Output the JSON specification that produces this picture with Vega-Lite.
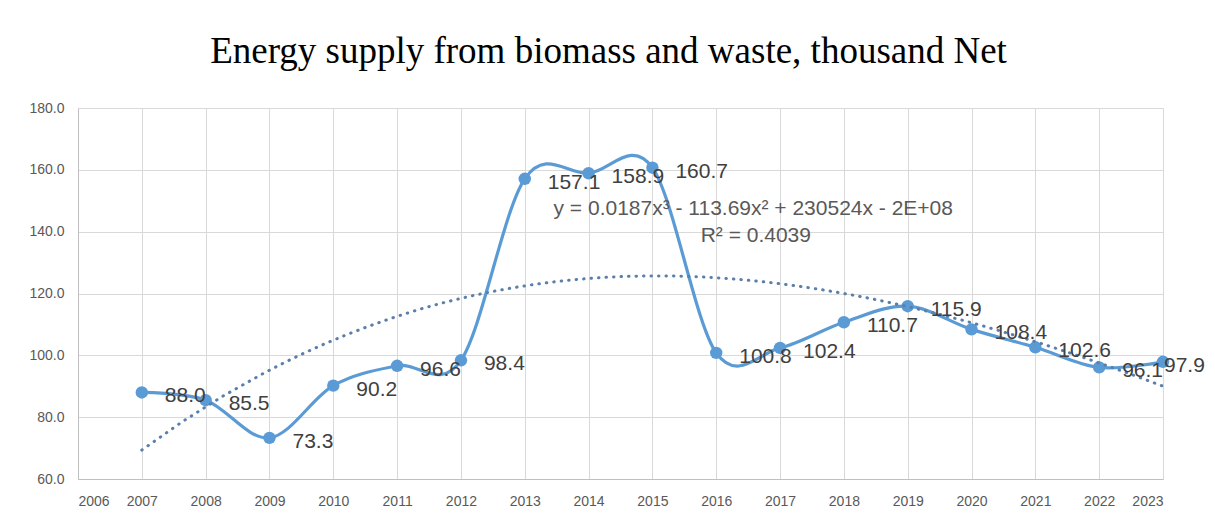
{
  "$schema": "https://vega.github.io/schema/vega-lite/v6.json",
  "autosize": "none",
  "width": 1085,
  "height": 371,
  "padding": {"left": 78, "top": 108, "right": 52, "bottom": 38},
  "background": "white",
  "title": {
    "text": "Energy supply from biomass and waste, thousand Net",
    "font": "Liberation Serif",
    "fontSize": 37,
    "fontWeight": "normal",
    "color": "#000000",
    "anchor": "middle",
    "frame": "group",
    "offset": 30,
    "dx": -12
  },
  "config": {
    "view": {"stroke": null},
    "axis": {
      "labelFont": "Liberation Sans",
      "labelFontSize": 14,
      "labelColor": "#595959",
      "gridColor": "#d9d9d9",
      "gridWidth": 1,
      "domainColor": "#bfbfbf",
      "ticks": false,
      "title": null
    }
  },
  "datasets": {
    "series": [
      {"year": 2007, "v": 88.0},
      {"year": 2008, "v": 85.5},
      {"year": 2009, "v": 73.3},
      {"year": 2010, "v": 90.2},
      {"year": 2011, "v": 96.6},
      {"year": 2012, "v": 98.4},
      {"year": 2013, "v": 157.1},
      {"year": 2014, "v": 158.9},
      {"year": 2015, "v": 160.7},
      {"year": 2016, "v": 100.8},
      {"year": 2017, "v": 102.4},
      {"year": 2018, "v": 110.7},
      {"year": 2019, "v": 115.9},
      {"year": 2020, "v": 108.4},
      {"year": 2021, "v": 102.6},
      {"year": 2022, "v": 96.1},
      {"year": 2023, "v": 97.9}
    ],
    "notes": [
      {"year": 2016.58, "v": 147.3, "label": "y = 0.0187x³ - 113.69x² + 230524x - 2E+08"},
      {"year": 2016.62, "v": 138.6, "label": "R² = 0.4039"}
    ]
  },
  "encoding": {
    "x": {
      "field": "year",
      "type": "quantitative",
      "scale": {"domain": [2006, 2023], "nice": false, "zero": false},
      "axis": {"values": [2006,2007,2008,2009,2010,2011,2012,2013,2014,2015,2016,2017,2018,2019,2020,2021,2022,2023], "format": "d", "labelPadding": 15}
    },
    "y": {
      "field": "v",
      "type": "quantitative",
      "scale": {"domain": [60, 180], "nice": false, "zero": false},
      "axis": {"values": [60, 80, 100, 120, 140, 160, 180], "format": ".1f", "labelPadding": 14}
    }
  },
  "layer": [
    {
      "data": {"name": "series"},
      "mark": {"type": "line", "interpolate": "cardinal", "color": "#5B9BD5", "strokeWidth": 3.2}
    },
    {
      "data": {"name": "series"},
      "mark": {"type": "point", "filled": true, "size": 155, "color": "#5B9BD5", "opacity": 1}
    },
    {
      "data": {"name": "series"},
      "transform": [
        {"regression": "v", "on": "year", "method": "poly", "order": 3, "extent": [2007, 2023]}
      ],
      "mark": {"type": "line", "color": "#5A7FAA", "strokeWidth": 3, "strokeDash": [0.5, 7], "strokeCap": "round"}
    },
    {
      "data": {"name": "series"},
      "transform": [{"filter": "datum.year < 2023"}],
      "mark": {"type": "text", "align": "left", "baseline": "middle", "dx": 23, "dy": 4, "font": "Liberation Sans", "fontSize": 21, "color": "#404040"},
      "encoding": {"text": {"field": "v", "type": "quantitative", "format": ".1f"}}
    },
    {
      "data": {"name": "series"},
      "transform": [{"filter": "datum.year == 2023"}],
      "mark": {"type": "text", "align": "left", "baseline": "middle", "dx": 1, "dy": 4, "font": "Liberation Sans", "fontSize": 21, "color": "#404040"},
      "encoding": {"text": {"field": "v", "type": "quantitative", "format": ".1f"}}
    },
    {
      "data": {"name": "notes"},
      "mark": {"type": "text", "align": "center", "baseline": "middle", "font": "Liberation Sans", "fontSize": 21, "color": "#595959"},
      "encoding": {"text": {"field": "label", "type": "nominal"}}
    }
  ]
}
